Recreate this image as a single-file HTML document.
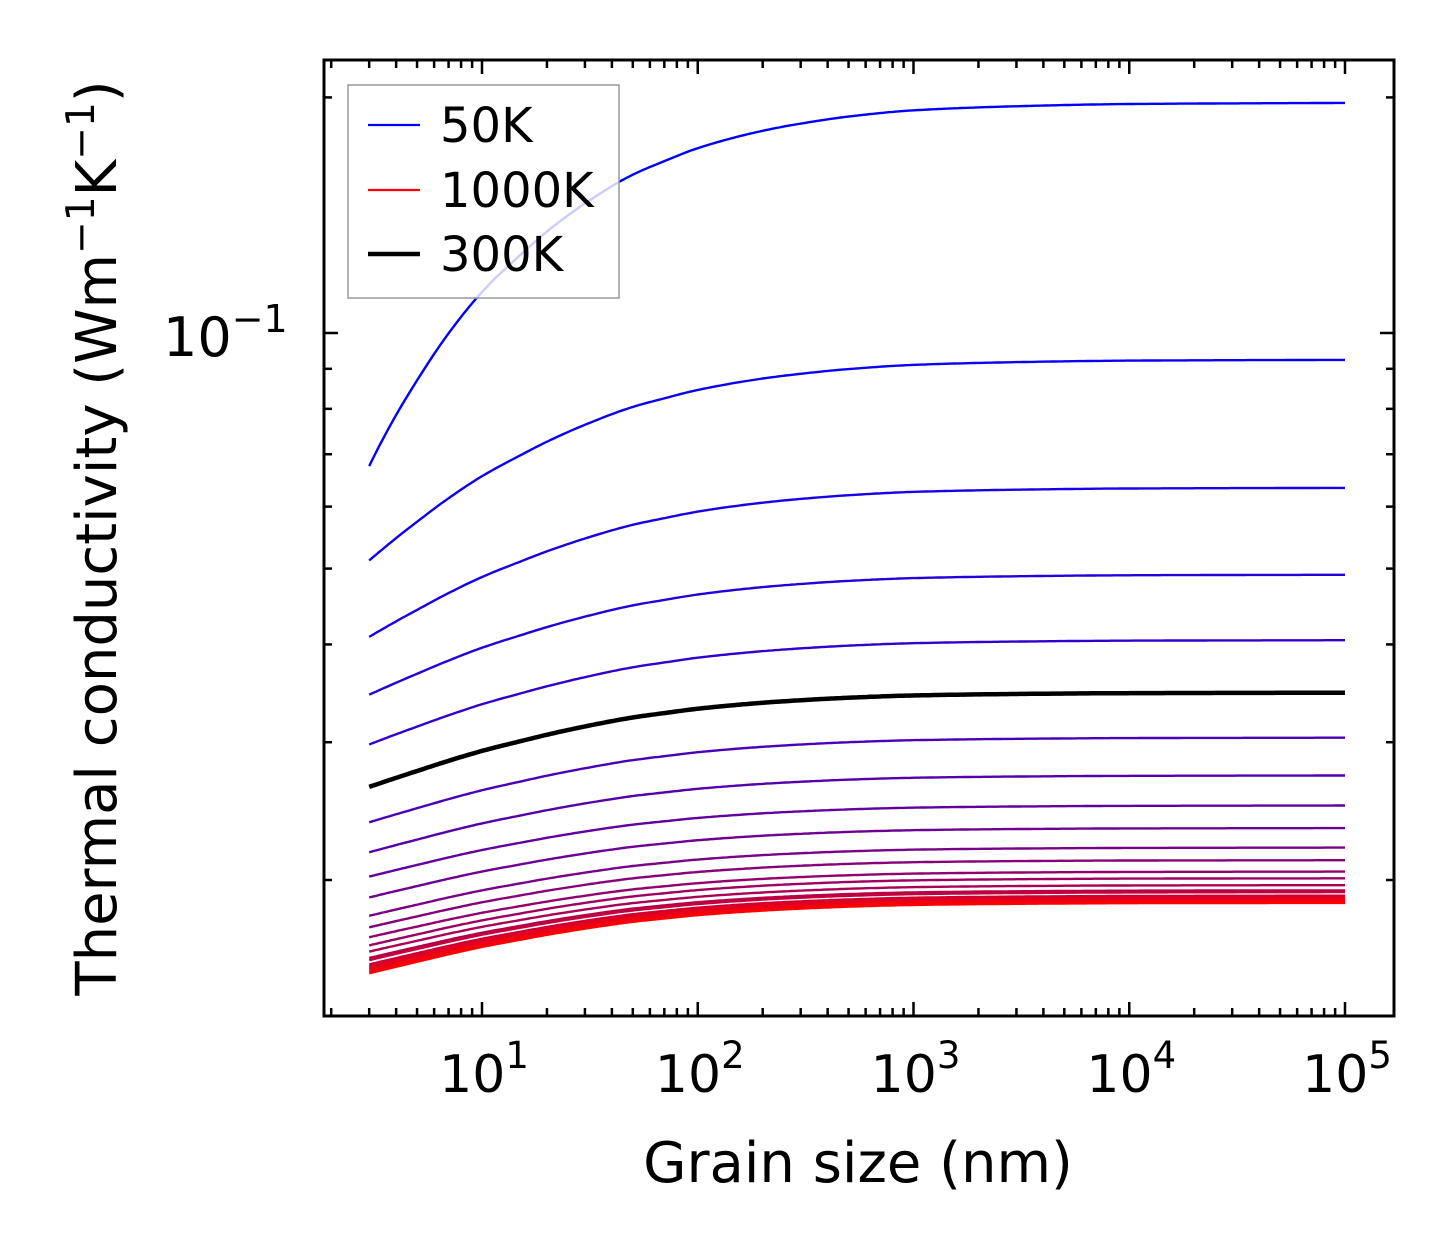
<!DOCTYPE html>
<html><head><meta charset="utf-8"><style>
html,body{margin:0;padding:0;background:#fff;}
svg{display:block;font-family:"DejaVu Sans","Liberation Sans",sans-serif;}
</style></head><body>
<svg id="chart" width="1454" height="1254" viewBox="0 0 1454 1254">
<rect x="0" y="0" width="1454" height="1254" fill="#fff"/>
<g id="curves"></g>
<g id="ticks"></g>
<rect x="324" y="60" width="1070" height="956" fill="none" stroke="#000" stroke-width="3"/>
<g id="xlabels"></g>
<text x="858" y="1182" font-size="56" text-anchor="middle">Grain size (nm)</text>
<text transform="translate(116,538) rotate(-90)" font-size="56" text-anchor="middle">Thermal conductivity (Wm<tspan dy="-22" font-size="39">−1</tspan><tspan dy="22">K</tspan><tspan dy="-22" font-size="39">−1</tspan><tspan dy="22">)</tspan></text>
<text x="163" y="356" font-size="54">10<tspan dy="-24" font-size="38">−1</tspan></text>
<g>
<rect x="348" y="85" width="271" height="213" fill="#fff" fill-opacity="0.8" stroke="#999" stroke-width="1.5"/>
<line x1="368" y1="125" x2="420" y2="125" stroke="#0000ff" stroke-width="2.2"/>
<text x="440" y="142" font-size="48">50K</text>
<line x1="368" y1="190" x2="420" y2="190" stroke="#ff0000" stroke-width="2.2"/>
<text x="440" y="207" font-size="48">1000K</text>
<line x1="368" y1="254" x2="420" y2="254" stroke="#000" stroke-width="4.5"/>
<text x="440" y="271" font-size="48">300K</text>
</g>
</svg>
<script>
// Data
const plateauValues = [0.1968,0.0924,0.0634,0.0491,0.0405,0.0347,0.0304,0.0272,0.0249,0.0233,0.0220,0.0212,0.0205,0.0201,0.0197,0.0194,0.0193,0.0191,0.0190,0.0189,0.0188,0.0187];
const startValues = [0.0676,0.0512,0.0409,0.0345,0.0298,0.0263,0.0237,0.0217,0.0202,0.0190,0.0180,0.0174,0.0169,0.0165,0.0162,0.0159,0.0158,0.0156,0.0155,0.0154,0.0153,0.0152];
const grainSizes = [3,4,5,7,10,15,20,30,50,70,100,200,300,500,1000,3000,10000,100000];
const shapeFraction = [0,0.085,0.15,0.25,0.35,0.45,0.52,0.61,0.71,0.76,0.81,0.88,0.91,0.94,0.967,0.985,0.995,1];
const blackIndex = 5;
const xTickExps = [1,2,3,4,5];

const NS = "http://www.w3.org/2000/svg";
function xScale(v){ return 482 + (Math.log10(v) - 1) * 215.75; }
function yScale(v){ return 333 - (Math.log10(v) + 1) * 782.6; }
// monotone cubic (PCHIP) interpolation in log10(L)
const lx = grainSizes.map(Math.log10);
const nS = lx.length;
const dl = [], sl = [];
for (let i = 0; i < nS - 1; i++) { dl.push(lx[i+1]-lx[i]); sl.push((shapeFraction[i+1]-shapeFraction[i])/dl[i]); }
const md = new Array(nS);
md[0] = sl[0]; md[nS-1] = sl[nS-2];
for (let i = 1; i < nS - 1; i++) {
  if (sl[i-1]*sl[i] <= 0) md[i] = 0;
  else { const w1 = 2*dl[i]+dl[i-1], w2 = dl[i]+2*dl[i-1]; md[i] = (w1+w2)/(w1/sl[i-1]+w2/sl[i]); }
}
function shapeAt(L){
  const l = Math.log10(L);
  for (let i = 0; i < nS - 1; i++) {
    if (l <= lx[i+1] + 1e-12) {
      const h = dl[i], t = (l - lx[i]) / h;
      const h00 = 2*t*t*t-3*t*t+1, h10 = t*t*t-2*t*t+t, h01 = -2*t*t*t+3*t*t, h11 = t*t*t-t*t;
      return h00*shapeFraction[i] + h10*h*md[i] + h01*shapeFraction[i+1] + h11*h*md[i+1];
    }
  }
  return 1;
}
const curves = document.getElementById('curves');
const n = plateauValues.length;
for (let c = 0; c < n; c++) {
  const pts = [];
  const lmin = lx[0], lmax = lx[nS-1];
  for (let k = 0; k <= 300; k++) {
    const L = Math.pow(10, lmin + (lmax - lmin) * k / 300);
    const f = shapeAt(L);
    const v = startValues[c] + f * (plateauValues[c] - startValues[c]);
    pts.push(xScale(L).toFixed(1) + "," + yScale(v).toFixed(1));
  }
  const p = document.createElementNS(NS, 'polyline');
  p.setAttribute('points', pts.join(' '));
  p.setAttribute('fill', 'none');
  const t = c / (n - 1);
  const col = c === blackIndex ? '#000' : 'rgb(' + Math.round(255 * t) + ',0,' + Math.round(255 * (1 - t)) + ')';
  p.setAttribute('stroke', col);
  p.setAttribute('stroke-width', c === blackIndex ? 4.5 : 2.4);
  
  
  curves.appendChild(p);
}
const ticks = document.getElementById('ticks');
function tick(x1,y1,x2,y2,name){
  const l = document.createElementNS(NS,'line');
  l.setAttribute('x1',x1);l.setAttribute('y1',y1);l.setAttribute('x2',x2);l.setAttribute('y2',y2);
  l.setAttribute('stroke','#000');l.setAttribute('stroke-width',2.5);
  
  
  ticks.appendChild(l);
}
for (let e = 0; e <= 5; e++) {
  for (let m = 1; m <= 9; m++) {
    const x = xScale(m * Math.pow(10, e));
    if (x < 326 || x > 1392) continue;
    const len = m === 1 ? 14 : 8;
    tick(x,1016,x,1016-len,'x-tick');
    tick(x,60,x,60+len,'x-tick-top');
  }
}
for (let e = -2; e <= -1; e++) {
  for (let m = 1; m <= 9; m++) {
    const y = yScale(m * Math.pow(10, e));
    if (y < 62 || y > 1014) continue;
    const len = m === 1 ? 14 : 8;
    tick(324,y,324+len,y,'y-tick');
    tick(1394,y,1394-len,y,'y-tick-right');
  }
}
const xl = document.getElementById('xlabels');
xTickExps.forEach(function(e){
  const t = document.createElementNS(NS,'text');
  t.setAttribute('x', xScale(Math.pow(10,e)) + 2);
  t.setAttribute('y', 1092);
  t.setAttribute('font-size', 52);
  t.setAttribute('text-anchor', 'middle');
  
  
  t.innerHTML = '10<tspan dy="-24" font-size="37">' + e + '</tspan>';
  xl.appendChild(t);
});
</script>
</body></html>
